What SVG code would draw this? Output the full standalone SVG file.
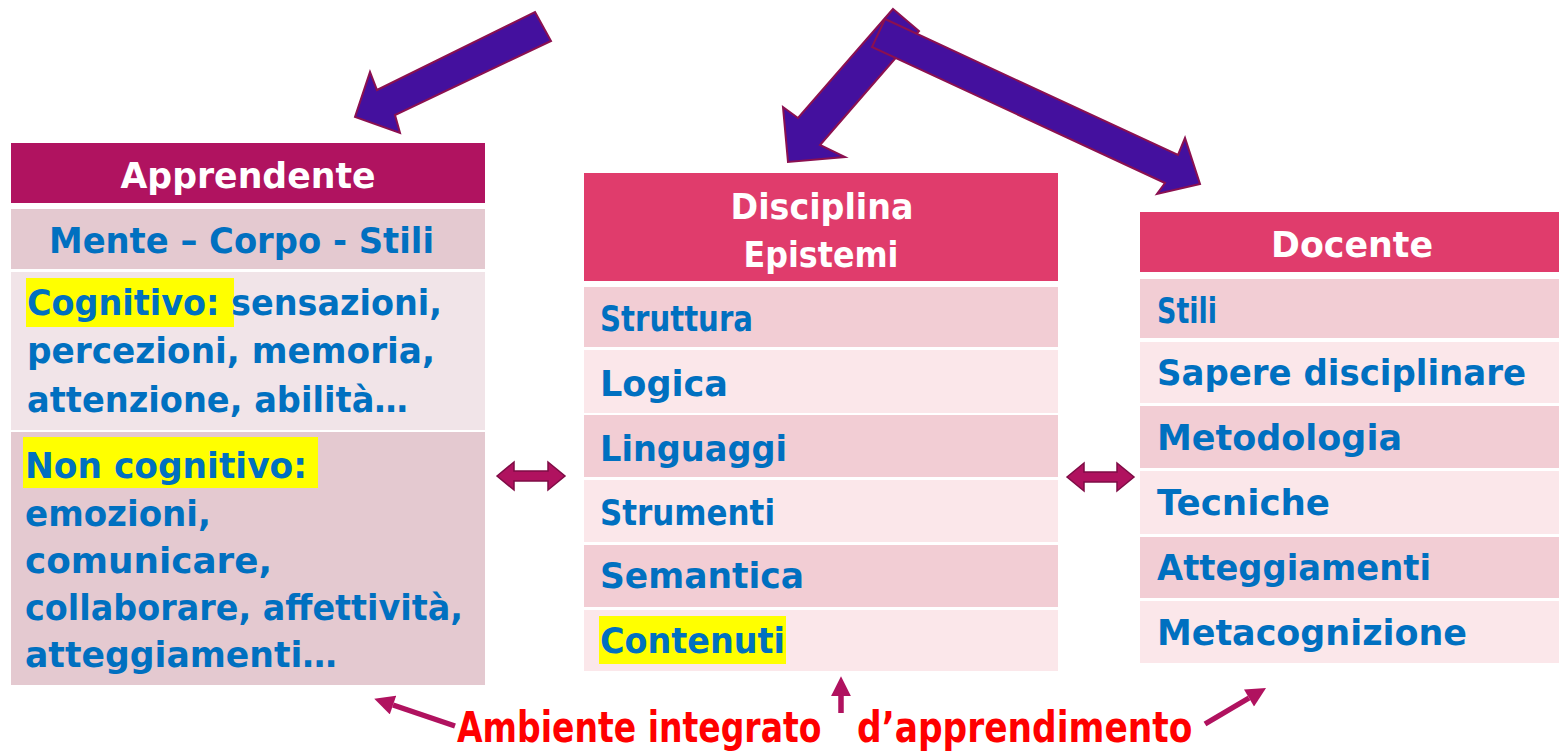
<svg xmlns="http://www.w3.org/2000/svg" width="1559" height="751" viewBox="0 0 1559 751">
<style>
.hdr{font-family:"DejaVu Sans","Liberation Sans",sans-serif;font-weight:bold;font-size:35px;fill:#ffffff}
.t{font-family:"DejaVu Sans","Liberation Sans",sans-serif;font-weight:bold;font-size:35px;fill:#0070C0}
.red{font-family:"DejaVu Sans","Liberation Sans",sans-serif;font-weight:bold;font-size:42px;fill:#FF0000}
.hA{fill:#B01360}
.hB{fill:#E03C6C}
.dk{fill:#F2CDD4}
.lt{fill:#FBE7EA}
.ldk{fill:#E4C9D0}
.llt{fill:#F1E4E8}
.hl{fill:#FFFF00}
.big{fill:#44109E;stroke:#8B1050;stroke-width:2;stroke-linejoin:miter}
.dbl{fill:#B0125F;stroke:#7E0C45;stroke-width:1.5}
.sm{stroke:#B0125F;stroke-width:5.5;fill:none}
</style>
<defs>
<marker id="ah" viewBox="0 0 10 10" refX="0" refY="5" markerWidth="3.8" markerHeight="3.6" orient="auto">
<path d="M0,0 L10,5 L0,10 z" fill="#B0125F"/>
</marker>
</defs>
<rect width="1559" height="751" fill="#ffffff"/>

<g id="apprendente">
<rect class="hA" x="11" y="143" width="474" height="60"/>
<text class="hdr" x="248" y="188" text-anchor="middle" textLength="255" lengthAdjust="spacingAndGlyphs">Apprendente</text>
<rect class="ldk" x="11" y="209" width="474" height="60"/>
<text class="t" x="49" y="253" textLength="385" lengthAdjust="spacingAndGlyphs">Mente – Corpo - Stili</text>
<rect class="llt" x="11" y="272" width="474" height="158"/>
<rect class="hl" x="26" y="278" width="208" height="49"/>
<text class="t" x="27" y="315" textLength="415" lengthAdjust="spacingAndGlyphs">Cognitivo: sensazioni,</text>
<text class="t" x="27" y="363" textLength="408" lengthAdjust="spacingAndGlyphs">percezioni, memoria,</text>
<text class="t" x="27" y="412" textLength="381" lengthAdjust="spacingAndGlyphs">attenzione, abilità…</text>
<rect class="ldk" x="11" y="432" width="474" height="253"/>
<rect class="hl" x="23" y="437" width="295" height="51"/>
<text class="t" x="25" y="478" textLength="282" lengthAdjust="spacingAndGlyphs">Non cognitivo:</text>
<text class="t" x="25" y="526" textLength="186" lengthAdjust="spacingAndGlyphs">emozioni,</text>
<text class="t" x="25" y="573" textLength="247" lengthAdjust="spacingAndGlyphs">comunicare,</text>
<text class="t" x="25" y="620" textLength="438" lengthAdjust="spacingAndGlyphs">collaborare, affettività,</text>
<text class="t" x="25" y="667" textLength="312" lengthAdjust="spacingAndGlyphs">atteggiamenti…</text>
</g>

<g id="disciplina">
<rect class="hB" x="584" y="173" width="474" height="108"/>
<text class="hdr" x="822" y="219" text-anchor="middle" textLength="183" lengthAdjust="spacingAndGlyphs">Disciplina</text>
<text class="hdr" x="821" y="267" text-anchor="middle" textLength="155" lengthAdjust="spacingAndGlyphs">Epistemi</text>
<rect class="dk" x="584" y="287" width="474" height="60"/>
<text class="t" x="600" y="331" textLength="153" lengthAdjust="spacingAndGlyphs">Struttura</text>
<rect class="lt" x="584" y="350" width="474" height="63"/>
<text class="t" x="600" y="396" textLength="128" lengthAdjust="spacingAndGlyphs">Logica</text>
<rect class="dk" x="584" y="415" width="474" height="62"/>
<text class="t" x="600" y="461" textLength="187" lengthAdjust="spacingAndGlyphs">Linguaggi</text>
<rect class="lt" x="584" y="480" width="474" height="62"/>
<text class="t" x="600" y="525" textLength="175" lengthAdjust="spacingAndGlyphs">Strumenti</text>
<rect class="dk" x="584" y="545" width="474" height="62"/>
<text class="t" x="600" y="588" textLength="204" lengthAdjust="spacingAndGlyphs">Semantica</text>
<rect class="lt" x="584" y="610" width="474" height="61"/>
<rect class="hl" x="599" y="616" width="187" height="48"/>
<text class="t" x="600" y="653" textLength="185" lengthAdjust="spacingAndGlyphs">Contenuti</text>
</g>

<g id="docente">
<rect class="hB" x="1140" y="212" width="419" height="60"/>
<text class="hdr" x="1352" y="257" text-anchor="middle" textLength="162" lengthAdjust="spacingAndGlyphs">Docente</text>
<rect class="dk" x="1140" y="279" width="419" height="59"/>
<text class="t" x="1157" y="323" textLength="60" lengthAdjust="spacingAndGlyphs">Stili</text>
<rect class="lt" x="1140" y="342" width="419" height="61"/>
<text class="t" x="1157" y="385" textLength="369" lengthAdjust="spacingAndGlyphs">Sapere disciplinare</text>
<rect class="dk" x="1140" y="406" width="419" height="62"/>
<text class="t" x="1157" y="450" textLength="245" lengthAdjust="spacingAndGlyphs">Metodologia</text>
<rect class="lt" x="1140" y="471" width="419" height="63"/>
<text class="t" x="1157" y="515" textLength="173" lengthAdjust="spacingAndGlyphs">Tecniche</text>
<rect class="dk" x="1140" y="537" width="419" height="61"/>
<text class="t" x="1157" y="580" textLength="274" lengthAdjust="spacingAndGlyphs">Atteggiamenti</text>
<rect class="lt" x="1140" y="601" width="419" height="62"/>
<text class="t" x="1157" y="645" textLength="310" lengthAdjust="spacingAndGlyphs">Metacognizione</text>
</g>

<g id="ambiente">
<text class="red" transform="translate(457,742) scale(0.787,1)" x="0" y="0">Ambiente integrato</text>
<text class="red" transform="translate(857,742) scale(0.82,1)" x="0" y="0">d’apprendimento</text>
</g>

<g id="connectors">
<polygon class="big" points="535,12 551,41 395,115 400,133 355,117 370,72 377,90"/>
<polygon class="big" points="893,9 919,31 820,145 845,157 788,162 783,107 798,118"/>
<polygon class="big" points="885,19 1178,155 1185,138 1200,184 1157,194 1165,183 872,47"/>
<path class="dbl" d="M497,476 L514,462 L514,471 L548,471 L548,462 L565,476 L548,490 L548,481 L514,481 L514,490 Z"/>
<path class="dbl" d="M1067,477 L1084,463 L1084,472 L1117,472 L1117,463 L1134,477 L1117,491 L1117,482 L1084,482 L1084,491 Z"/>
<line class="sm" x1="455" y1="726" x2="393" y2="705" marker-end="url(#ah)"/>
<line class="sm" x1="841" y1="713" x2="841" y2="696" marker-end="url(#ah)"/>
<line class="sm" x1="1205" y1="724" x2="1249" y2="698" marker-end="url(#ah)"/>
</g>
</svg>
